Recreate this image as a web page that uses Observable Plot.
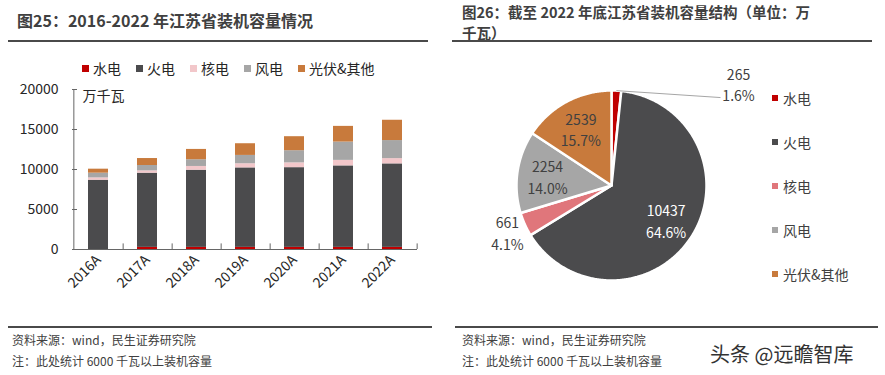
<!DOCTYPE html>
<html>
<head>
<meta charset="utf-8">
<script src="https://cdn.jsdelivr.net/npm/d3@7"></script>
<script src="https://cdn.jsdelivr.net/npm/@observablehq/plot@0.6"></script>
<style>
  html, body { margin: 0; padding: 0; background: #fff; }
  body { width: 885px; height: 375px; position: relative; overflow: hidden;
         font-family: "Noto Sans CJK SC", "Microsoft YaHei", sans-serif; color: #404040; }
  .abs { position: absolute; }
  .title { font-weight: bold; font-size: 16px; line-height: 16px; color: #404040; white-space: nowrap; }
  .hr { position: absolute; height: 2px; background: #4a4a4a; }
  .foot { font-size: 12px; color: #404040; white-space: nowrap; line-height: 14px; }
  .legend { display: flex; align-items: center; font-size: 14px; color: #262626; white-space: nowrap; }
  .legend .sw { display: inline-block; width: 7px; height: 7px; margin-right: 4px; }
  .legend .item { display: flex; align-items: center; margin-right: 15px; }
  .pielegend .item { position: absolute; display: flex; align-items: center; font-size: 14px; color: #404040; white-space: nowrap; }
  .pielegend .sw { display: inline-block; width: 6px; height: 6px; margin-right: 5px; }
  svg { overflow: visible; }
</style>
</head>
<body>
<div class="abs title" style="left:17px; top:12px;">图25：2016-2022 年江苏省装机容量情况</div>
<div class="hr" style="left:8px; top:40px; width:420px;"></div>
<div class="abs title" style="left:462px; top:1px; font-size:14.5px; line-height:21px;">图26：截至 2022 年底江苏省装机容量结构（单位：万</div>
<div class="abs title" style="left:462px; top:22px; font-size:14.5px; line-height:21px;">千瓦）</div>
<div class="hr" style="left:452px; top:40px; width:420px;"></div>

<div id="legend" class="abs legend" style="left:82px; top:58px;"></div>
<div id="bar" class="abs" style="left:0px; top:75px;"></div>
<div id="pie" class="abs" style="left:452px; top:45px;"></div>
<div id="pielegend" class="abs pielegend" style="left:772px; top:0px;"></div>

<div class="hr" style="left:8px; top:326px; width:424px;"></div>
<div class="hr" style="left:455px; top:326px; width:423px;"></div>
<div class="abs foot" style="left:12px; top:333px;">资料来源：wind，民生证券研究院</div>
<div class="abs foot" style="left:12px; top:354px;">注：此处统计 6000 千瓦以上装机容量</div>
<div class="abs foot" style="left:462px; top:333px;">资料来源：wind，民生证券研究院</div>
<div class="abs foot" style="left:462px; top:354px;">注：此处统计 6000 千瓦以上装机容量</div>
<div class="abs" style="left:710px; top:339px; font-size:20px; color:#333; white-space:nowrap;">头条 @远瞻智库</div>

<script>
// ---------- data ----------
const years = ["2016A", "2017A", "2018A", "2019A", "2020A", "2021A", "2022A"];
const series = ["水电", "火电", "核电", "风电", "光伏&其他"];
const hydro   = [0, 265, 265, 265, 265, 265, 265];
const thermal = [8660, 9275, 9645, 9935, 9965, 10185, 10437];
const nuclear = [290, 290, 470, 520, 600, 690, 661];
const wind    = [590, 670, 840, 1040, 1520, 2290, 2254];
const solar   = [500, 870, 1290, 1460, 1750, 1960, 2539];
const yTicks = [0, 5000, 10000, 15000, 20000];
const unitLabel = "万千瓦";

const pieNames = ["水电", "火电", "核电", "风电", "光伏&其他"];
const pieValues = [265, 10437, 661, 2254, 2539];
const piePercents = ["1.6%", "64.6%", "4.1%", "14.0%", "15.7%"];

// ---------- styles ----------
const font = "'Noto Sans CJK SC', 'Microsoft YaHei', sans-serif";
const barColors = ["#c00000", "#4b4b4d", "#f2c7ca", "#a6a6a6", "#c87a3c"];
const pieColors = ["#c00000", "#4b4b4d", "#e0767b", "#a6a6a6", "#c87a3c"];
const axisColor = "#666";

// ---------- legend (bar) ----------
const lg = document.getElementById("legend");
series.forEach((s, i) => {
  const it = document.createElement("span");
  it.className = "item";
  it.innerHTML = `<span class="sw" style="background:${barColors[i]}"></span>${s}`;
  lg.appendChild(it);
});

// ---------- bar chart ----------
const cols = [hydro, thermal, nuclear, wind, solar];
const barData = years.flatMap((yr, i) => series.map((s, j) => ({year: yr, type: s, value: cols[j][i]})));
const W = 430, ML = 72, MR = 13;
const step = (W - ML - MR) / years.length;
const frameW = W - ML - MR;

const bar = Plot.plot({
  width: W, height: 226,
  marginLeft: ML, marginRight: MR, marginTop: 14, marginBottom: 52,
  x: {domain: years, paddingInner: 0.6, paddingOuter: 0.3, label: null},
  y: {domain: [0, 20000], label: null},
  color: {domain: series, range: barColors},
  style: {fontFamily: font, fontSize: "14px", color: "#262626", background: "transparent", overflow: "visible"},
  marks: [
    Plot.barY(barData, {x: "year", y: "value", fill: "type"}),
    Plot.ruleY(yTicks, {stroke: axisColor, insetRight: frameW - 5}),
    Plot.ruleY([0], {stroke: axisColor}),
    Plot.ruleX(years, {x: d => d, dx: step / 2, y1: 0, y2: 700, stroke: axisColor}),
    Plot.ruleX([years[0]], {x: d => d, dx: -step / 2, y1: 0, y2: 20000, stroke: axisColor}),
    Plot.axisY(yTicks, {tickSize: 0, tickPadding: 14, fontSize: 14, label: null, tickFormat: d => String(d)}),
    Plot.axisX({tickSize: 0, tickPadding: 8, tickRotate: -45, fontSize: 14, label: null}),
    Plot.text([unitLabel], {frameAnchor: "top-left", dx: 10, dy: 2, fontSize: 14, textAnchor: "start", lineAnchor: "top"})
  ]
});
document.getElementById("bar").appendChild(bar);

// ---------- pie chart ----------
const PW = 300, PH = 260, R = 95, CX = 159, CY = 140;
const arcs = d3.pie().sort(null).value((d, i) => pieValues[i])(pieNames);
const slicePts = arcs.flatMap((a, i) => {
  const pts = [{name: pieNames[i], x: 0, y: 0}];
  const n = Math.max(2, Math.ceil((a.endAngle - a.startAngle) / 0.01));
  for (let k = 0; k <= n; k++) {
    const t = a.startAngle + (a.endAngle - a.startAngle) * k / n;
    pts.push({name: pieNames[i], x: Math.sin(t), y: Math.cos(t)});
  }
  return pts;
});
const total = d3.sum(pieValues);
const labels = arcs.map((a, i) => {
  const mid = (a.startAngle + a.endAngle) / 2;
  const small = pieValues[i] / total < 0.05;
  const rf = small ? 1.2 : 0.68;
  return {name: pieNames[i], mid, small, x: Math.sin(mid) * rf, y: Math.cos(mid) * rf,
          ax: Math.sin(mid), ay: Math.cos(mid),
          text: `${pieValues[i]}\n${piePercents[i]}`, white: i === 1};
});
// the tiny slice at the top gets its label pulled to the right with a leader line
const leadered = labels.filter(d => d.small && Math.abs(d.mid) < 0.3).map(d => ({...d, ex: d.ax + 1.096, ey: d.ay - 0.073}));
const plainLabels = labels.filter(d => !leadered.some(l => l.name === d.name));

const pie = Plot.plot({
  width: PW, height: PH, margin: 0,
  x: {domain: [-CX / R, (PW - CX) / R], axis: null},
  y: {domain: [-(PH - CY) / R, CY / R], axis: null},
  color: {domain: pieNames, range: pieColors},
  style: {fontFamily: font, fontSize: "14px", background: "transparent", overflow: "visible"},
  marks: [
    Plot.line(slicePts, {x: "x", y: "y", z: "name", fill: "name", stroke: "white", strokeWidth: 2.5, curve: "linear-closed"}),
    Plot.link(leadered, {x1: "ax", y1: "ay", x2: "ex", y2: "ey", stroke: "#a6a6a6", strokeWidth: 1}),
    Plot.text(leadered, {x: "ex", y: "ey", dx: 18, dy: -14, text: "text", fill: "#404040", fontSize: 14, lineHeight: 1.55}),
    Plot.text(plainLabels, {x: "x", y: "y", text: "text", fill: d => d.white ? "#ffffff" : "#404040", fontSize: 14, lineHeight: 1.55})
  ]
});
document.getElementById("pie").appendChild(pie);

// ---------- pie legend ----------
const pl = document.getElementById("pielegend");
pieNames.forEach((s, i) => {
  const it = document.createElement("div");
  it.className = "item";
  it.style.top = (88 + i * 44) + "px";
  it.innerHTML = `<span class="sw" style="background:${pieColors[i]}"></span>${s}`;
  pl.appendChild(it);
});
</script>
</body>
</html>
